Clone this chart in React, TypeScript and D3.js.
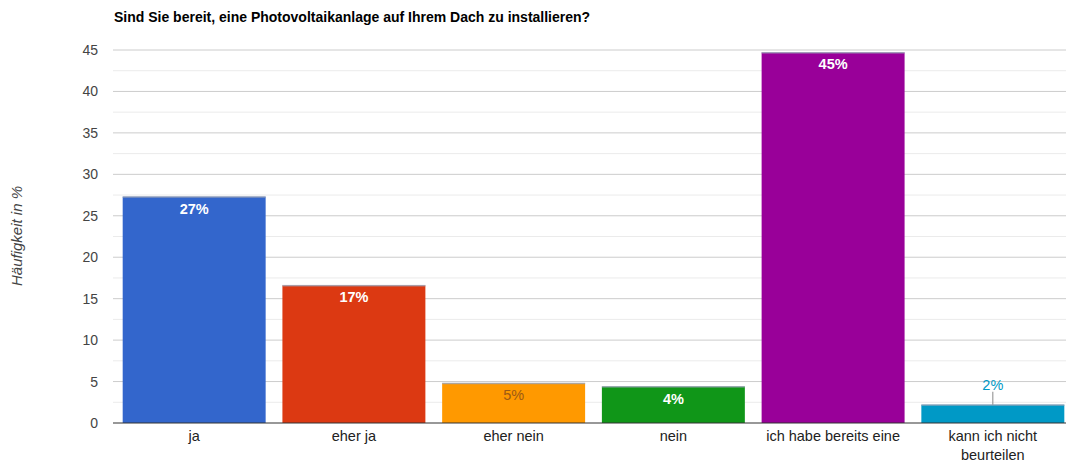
import React from "react";
import * as d3 from "d3";

const categories = ["ja", "eher ja", "eher nein", "nein", "ich habe bereits eine", "kann ich nicht beurteilen"];
const values = [27.3, 16.6, 4.8, 4.4, 44.7, 2.2];
const labels = ["27%", "17%", "5%", "4%", "45%", "2%"];
const colors = ["#3366cc", "#dc3912", "#ff9900", "#109618", "#990099", "#0099c6"];
const yTicks = [0, 5, 10, 15, 20, 25, 30, 35, 40, 45];
const minorTicks = [2.5, 7.5, 12.5, 17.5, 22.5, 27.5, 32.5, 37.5, 42.5];

const W = 1068;
const H = 464;

export default function App() {
  const x = d3.scaleBand<string>().domain(categories).range([114.7, 1072.3]).paddingInner(0.105).paddingOuter(0.05);
  const y = d3.scaleLinear().domain([0, 45]).range([423, 50]);
  const gridX0 = 113;
  const gridX1 = 1066;
  const font = "Arial, 'Liberation Sans', sans-serif";
  return (
    <svg width={W} height={H} style={{ position: "absolute", left: 0, top: 0, display: "block", background: "#fff" }} fontFamily={font}>
      <text x={114} y={22} fontSize={14} fontWeight="bold" fill="#000">
        Sind Sie bereit, eine Photovoltaikanlage auf Ihrem Dach zu installieren?
      </text>
      {minorTicks.map((t) => (
        <line key={"m" + t} x1={gridX0} x2={gridX1} y1={y(t)} y2={y(t)} stroke="#ebebeb" strokeWidth={1} />
      ))}
      {yTicks.filter((t) => t > 0).map((t) => (
        <line key={"g" + t} x1={gridX0} x2={gridX1} y1={y(t)} y2={y(t)} stroke="#cccccc" strokeWidth={1} />
      ))}
      {yTicks.map((t) => (
        <text key={"t" + t} x={98} y={y(t) + 5} fontSize={14} textAnchor="end" fill="#444">
          {t}
        </text>
      ))}
      <text transform={`translate(22,236) rotate(-90)`} fontSize={15} fontStyle="italic" textAnchor="middle" fill="#444">
        Häufigkeit in %
      </text>
      {categories.map((c, i) => {
        const bx = x(c)!;
        const bw = x.bandwidth();
        const top = y(values[i]);
        const cx = bx + bw / 2;
        const inside = i !== 5;
        return (
          <g key={c}>
            <rect x={bx} y={top} width={bw} height={y(0) - top} fill={colors[i]} />
            <rect x={bx} y={top - 0.5} width={bw} height={1.5} fill="#9aa3b5" opacity={0.8} />
            {inside ? (
              <text x={cx} y={top + 17} fontSize={14.5} fontWeight={i === 2 ? "normal" : "bold"} textAnchor="middle" fill={i === 2 ? "#9c5a14" : "#ffffff"}>
                {labels[i]}
              </text>
            ) : (
              <g>
                <line x1={cx} x2={cx} y1={top - 13} y2={top} stroke="#888" strokeWidth={1} />
                <text x={cx} y={top - 15} fontSize={14.5} textAnchor="middle" fill={colors[i]}>
                  {labels[i]}
                </text>
              </g>
            )}
          </g>
        );
      })}
      <line x1={gridX0} x2={gridX1} y1={y(0)} y2={y(0)} stroke="#333" strokeWidth={1.2} />
      {categories.map((c, i) => {
        const cx = x(c)! + x.bandwidth() / 2;
        const lines = c === "kann ich nicht beurteilen" ? ["kann ich nicht", "beurteilen"] : [c];
        return (
          <text key={"x" + c} x={cx} y={441} fontSize={14.5} textAnchor="middle" fill="#222">
            {lines.map((l, j) => (
              <tspan key={j} x={cx} dy={j === 0 ? 0 : 19}>
                {l}
              </tspan>
            ))}
          </text>
        );
      })}
    </svg>
  );
}
